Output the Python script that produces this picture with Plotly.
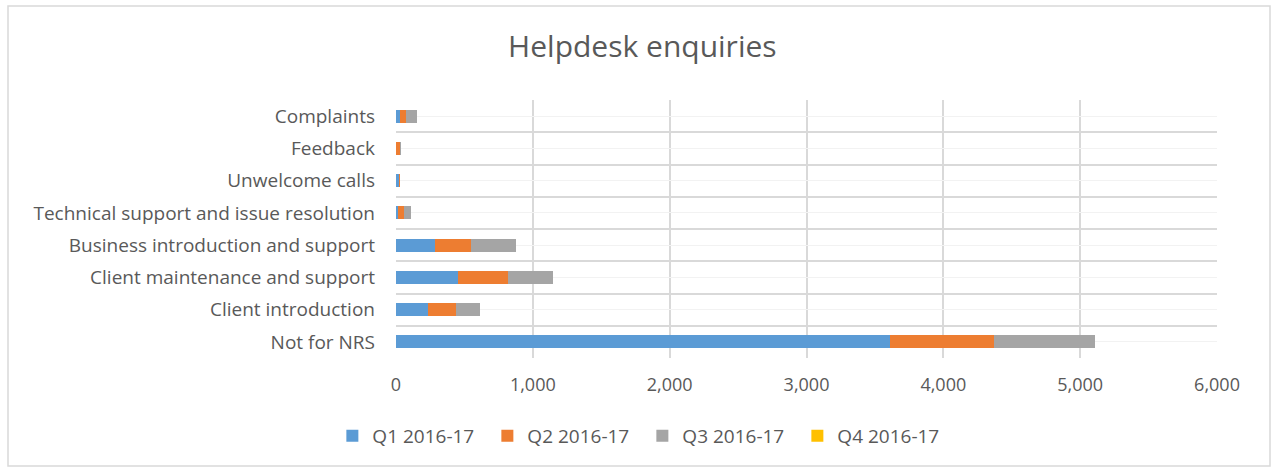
import plotly.graph_objects as go

categories = ["Not for NRS", "Client introduction", "Client maintenance and support",
              "Business introduction and support", "Technical support and issue resolution",
              "Unwelcome calls", "Feedback", "Complaints"]
series_names = ["Q1 2016-17", "Q2 2016-17", "Q3 2016-17", "Q4 2016-17"]
q1 = [3610, 234, 453, 287, 15, 22, 3, 29]
q2 = [763, 207, 368, 263, 43, 2, 28, 44]
q3 = [736, 175, 327, 324, 51, 0, 4, 78]
q4 = [0, 0, 0, 0, 0, 0, 0, 0]
colors = ["#5B9BD5", "#ED7D31", "#A5A5A5", "#FFC000"]
x_ticks = [0, 1000, 2000, 3000, 4000, 5000, 6000]
x_tick_labels = ["0", "1,000", "2,000", "3,000", "4,000", "5,000", "6,000"]

W, H = 1272, 468
ML, MR, MT, MB = 396, 55, 100, 110
font_family = "'Open Sans', Lato, sans-serif"
text_color = "#595959"

fig = go.Figure()
pos = list(range(len(categories)))
for name, vals, col in zip(series_names, [q1, q2, q3, q4], colors):
    fig.add_trace(go.Bar(
        y=pos, x=vals, name=name, orientation="h",
        marker=dict(color=col, line=dict(width=0)), width=0.41,
    ))

pw = W - ML - MR
ph = H - MT - MB
fig.add_shape(type="rect", xref="paper", yref="paper",
              x0=(8 - ML) / pw, x1=(W - 2 - ML) / pw,
              y0=((H - MB) - (H - 2)) / ph, y1=((H - MB) - 6) / ph,
              line=dict(color="#D9D9D9", width=1.5), layer="below")

fig.update_layout(
    width=W, height=H,
    margin=dict(l=ML, r=MR, t=MT, b=MB, autoexpand=False),
    barmode="stack",
    paper_bgcolor="white", plot_bgcolor="white",
    font=dict(family=font_family, color=text_color, size=18),
    title=dict(text="Helpdesk enquiries", x=0.505, xref="container", xanchor="center",
               y=1 - 46 / H, yref="container", yanchor="middle",
               font=dict(size=30, color=text_color, family=font_family)),
    legend=dict(orientation="h", x=0.505, xref="container", xanchor="center",
                y=1 - 436 / H, yref="container", yanchor="middle",
                font=dict(size=19, color=text_color),
                entrywidth=110, entrywidthmode="pixels", itemwidth=30,
                traceorder="normal"),
)
fig.update_xaxes(range=[0, 6000], tickvals=x_ticks, ticktext=x_tick_labels,
                 showgrid=True, gridcolor="#D9D9D9", gridwidth=1.5,
                 zeroline=False, showline=False, ticks="", ticklabelstandoff=14,
                 tickfont=dict(size=18, color=text_color), fixedrange=True)
fig.update_yaxes(range=[-0.5, len(categories) - 0.5], tickvals=pos, ticktext=categories,
                 showgrid=True, gridcolor="#F2F2F2", gridwidth=1,
                 minor=dict(tickvals=[i - 0.5 for i in range(len(categories) + 1)],
                            showgrid=True, gridcolor="#D9D9D9", gridwidth=1.5, ticks=""),
                 zeroline=False, showline=False, ticks="", ticklabelstandoff=20,
                 tickfont=dict(size=19, color=text_color), fixedrange=True)

fig.write_html("out.html", config={"displayModeBar": False},
               post_script="document.body.style.margin='0';")
